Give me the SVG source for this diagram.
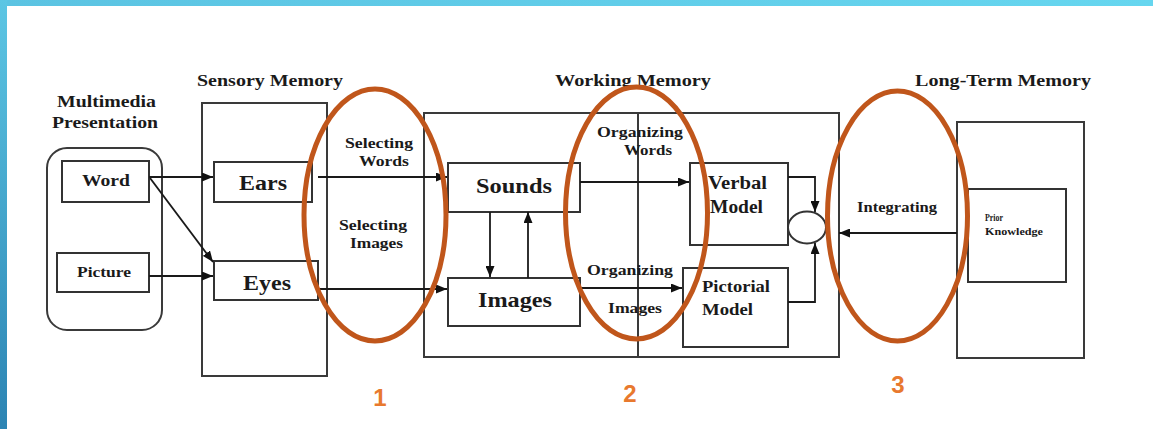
<svg xmlns="http://www.w3.org/2000/svg" width="1153" height="429" viewBox="0 0 1153 429">
<defs>
<linearGradient id="gTop" x1="0" y1="0" x2="1" y2="0"><stop offset="0" stop-color="#5BC3E2"/><stop offset="1" stop-color="#66D6EF"/></linearGradient>
<linearGradient id="gLeft" x1="0" y1="0" x2="0" y2="1"><stop offset="0" stop-color="#5CC6E4"/><stop offset="1" stop-color="#2C84B3"/></linearGradient>
<marker id="ah" markerUnits="userSpaceOnUse" markerWidth="11" markerHeight="9" refX="11" refY="4.5" orient="auto"><path d="M0,0 L11,4.5 L0,9 z" fill="#111"/></marker>
<style>
.box{fill:#fff;stroke:#333;stroke-width:2}
.frame{fill:none;stroke:#3a3a3a;stroke-width:2}
.t{font-family:"Liberation Serif","Times New Roman",serif;font-weight:bold;fill:#1a1a1a}
.c{fill:none;stroke:#1a1a1a;stroke-width:1.8;marker-end:url(#ah)}
.ring{fill:none;stroke:#C0561B;stroke-width:5}
.num{font-family:"Liberation Sans",Arial,sans-serif;font-weight:bold;font-size:24px;fill:#E8792E;text-anchor:middle}
</style>
</defs>
<rect x="0" y="0" width="1153" height="429" fill="#fff"/>
<rect x="0" y="0" width="1153" height="6" fill="url(#gTop)"/>
<rect x="0" y="0" width="7" height="429" fill="url(#gLeft)"/>

<g id="titles">
<text class="t" x="57" y="107" font-size="17" textLength="99" lengthAdjust="spacingAndGlyphs">Multimedia</text>
<text class="t" x="52" y="128" font-size="17" textLength="106" lengthAdjust="spacingAndGlyphs">Presentation</text>
<text class="t" x="197" y="86" font-size="17" textLength="146" lengthAdjust="spacingAndGlyphs">Sensory Memory</text>
<text class="t" x="555" y="86" font-size="17" textLength="156" lengthAdjust="spacingAndGlyphs">Working Memory</text>
<text class="t" x="915" y="86" font-size="17" textLength="176" lengthAdjust="spacingAndGlyphs">Long-Term Memory</text>
</g>

<g id="multimedia">
<rect class="frame" x="47" y="148" width="115" height="182" rx="20"/>
</g>
<g id="word">
<rect class="box" x="62" y="161" width="87" height="41"/>
<text class="t" x="82" y="186" font-size="16" textLength="48" lengthAdjust="spacingAndGlyphs">Word</text>
</g>
<g id="picture">
<rect class="box" x="57" y="253" width="92" height="39"/>
<text class="t" x="77" y="277" font-size="14" textLength="54" lengthAdjust="spacingAndGlyphs">Picture</text>
</g>

<g id="sensory">
<rect class="frame" x="202" y="103" width="125" height="273"/>
</g>
<g id="ears">
<rect class="box" x="214" y="162" width="98" height="40"/>
<text class="t" x="239" y="190" font-size="20" textLength="48" lengthAdjust="spacingAndGlyphs">Ears</text>
</g>
<g id="eyes">
<rect class="box" x="214" y="261" width="104" height="39"/>
<text class="t" x="243" y="290" font-size="20" textLength="48" lengthAdjust="spacingAndGlyphs">Eyes</text>
</g>

<g id="working">
<rect class="frame" x="424" y="113" width="415" height="244"/>
<line x1="638" y1="113" x2="638" y2="357" stroke="#3a3a3a" stroke-width="2"/>
</g>
<g id="sounds">
<rect class="box" x="448" y="163" width="132" height="49"/>
<text class="t" x="476" y="193" font-size="21" textLength="76" lengthAdjust="spacingAndGlyphs">Sounds</text>
</g>
<g id="images">
<rect class="box" x="448" y="278" width="132" height="48"/>
<text class="t" x="478" y="307" font-size="21" textLength="74" lengthAdjust="spacingAndGlyphs">Images</text>
</g>
<g id="verbal">
<rect class="box" x="690" y="163" width="98" height="82"/>
<text class="t" x="708" y="189" font-size="18" textLength="59" lengthAdjust="spacingAndGlyphs">Verbal</text>
<text class="t" x="710" y="213" font-size="18" textLength="53" lengthAdjust="spacingAndGlyphs">Model</text>
</g>
<g id="pictorial">
<rect class="box" x="683" y="268" width="105" height="79"/>
<text class="t" x="702" y="292" font-size="17" textLength="68" lengthAdjust="spacingAndGlyphs">Pictorial</text>
<text class="t" x="702" y="315" font-size="17" textLength="51" lengthAdjust="spacingAndGlyphs">Model</text>
</g>
<g id="merge">
<ellipse cx="807" cy="227.5" rx="19" ry="16" fill="#fff" stroke="#333" stroke-width="2"/>
</g>

<g id="longterm">
<rect class="frame" x="957" y="122" width="127" height="236"/>
</g>
<g id="prior">
<rect class="box" x="968" y="189" width="98" height="93"/>
<text class="t" x="985" y="221" font-size="10" textLength="18" lengthAdjust="spacingAndGlyphs">Prior</text>
<text class="t" x="985" y="235" font-size="10" textLength="58" lengthAdjust="spacingAndGlyphs">Knowledge</text>
</g>

<g id="process-labels">
<text class="t" x="345" y="148" font-size="14" textLength="68" lengthAdjust="spacingAndGlyphs">Selecting</text>
<text class="t" x="359" y="166" font-size="14" textLength="50" lengthAdjust="spacingAndGlyphs">Words</text>
<text class="t" x="339" y="230" font-size="14" textLength="68" lengthAdjust="spacingAndGlyphs">Selecting</text>
<text class="t" x="350" y="248" font-size="14" textLength="53" lengthAdjust="spacingAndGlyphs">Images</text>
<text class="t" x="597" y="137" font-size="15" textLength="86" lengthAdjust="spacingAndGlyphs">Organizing</text>
<text class="t" x="624" y="155" font-size="15" textLength="48" lengthAdjust="spacingAndGlyphs">Words</text>
<text class="t" x="587" y="275" font-size="15" textLength="86" lengthAdjust="spacingAndGlyphs">Organizing</text>
<text class="t" x="608" y="313" font-size="15" textLength="54" lengthAdjust="spacingAndGlyphs">Images</text>
<text class="t" x="857" y="212" font-size="15" textLength="80" lengthAdjust="spacingAndGlyphs">Integrating</text>
</g>

<g id="connectors">
<path class="c" d="M149,177 L213,177"/>
<path class="c" d="M150,178 L213,262"/>
<path class="c" d="M149,276 L213,276"/>
<path class="c" d="M318,177 L447,177"/>
<path class="c" d="M318,289 L447,289"/>
<path class="c" d="M490,212 L490,277"/>
<path class="c" d="M528,278 L528,212"/>
<path class="c" d="M580,182 L689,182"/>
<path class="c" d="M580,288 L682,288"/>
<path class="c" d="M788,177 L815,177 L815,212"/>
<path class="c" d="M788,302 L815,302 L815,243"/>
<path class="c" d="M957,233 L839,233"/>
</g>

<g id="highlights">
<ellipse class="ring" cx="375" cy="215" rx="71" ry="126"/>
<ellipse class="ring" cx="636.5" cy="213" rx="71" ry="126"/>
<ellipse class="ring" cx="897.5" cy="216" rx="70" ry="125"/>
<text class="num" x="380" y="406">1</text>
<text class="num" x="630" y="402">2</text>
<text class="num" x="898" y="393">3</text>
</g>
</svg>
